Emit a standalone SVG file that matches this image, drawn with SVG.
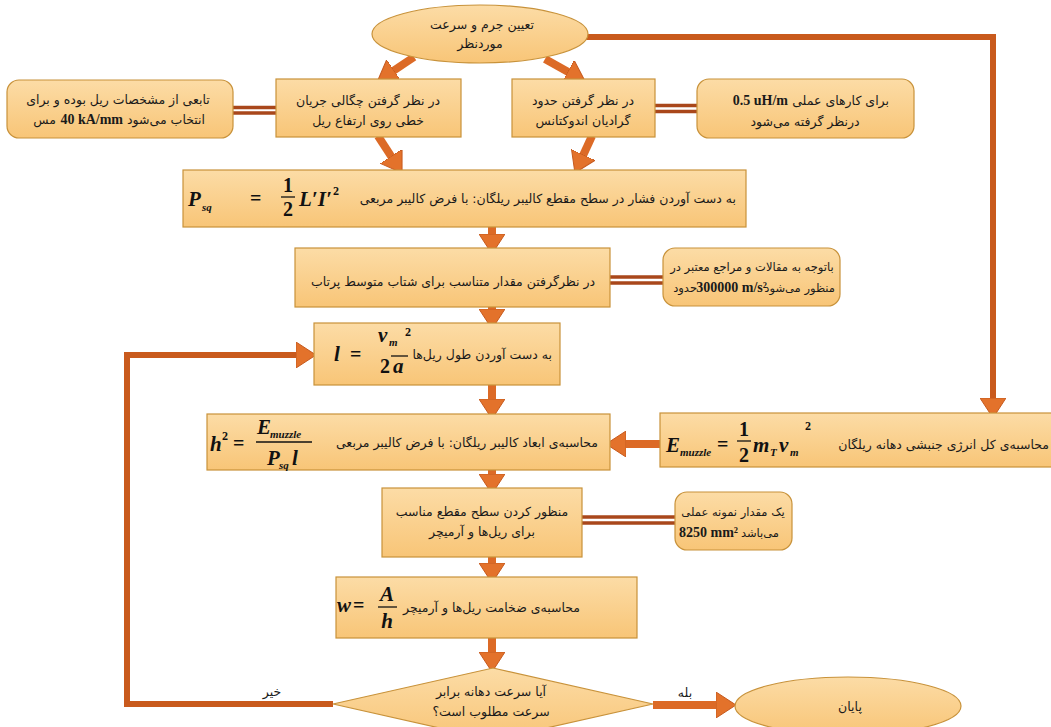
<svg xmlns="http://www.w3.org/2000/svg" width="1051" height="727" viewBox="0 0 1051 727">
<style>
.box{fill:url(#g);stroke:#c8923a;stroke-width:1.2}
.fa{font-family:"DejaVu Sans",sans-serif;font-size:12.5px;fill:#1a1a1a}
.fs{font-family:"DejaVu Sans",sans-serif;font-size:11.5px;fill:#1a1a1a}
.lat{font-family:"Liberation Serif",serif;font-weight:bold;font-size:14px;fill:#1a1a1a}
.m{font-family:"Liberation Serif",serif;font-style:italic;font-weight:bold;font-size:21px;fill:#111}
.ms{font-family:"Liberation Serif",serif;font-style:italic;font-weight:bold;font-size:11px;fill:#111}
.mr{font-family:"Liberation Serif",serif;font-weight:bold;font-size:20px;fill:#111}
.sup{font-family:"Liberation Serif",serif;font-weight:bold;font-size:12px;fill:#111}
.fl{stroke:#111;stroke-width:1.3}
.shaft{fill:none;stroke:#dc6a26;stroke-width:8;marker-end:url(#ah)}
.loop{fill:none;stroke:#c95a1d;stroke-width:6;marker-end:url(#ah)}
.dbl{stroke:#a9471b;stroke-width:3.5}
</style>
<defs>
<linearGradient id="g" x1="0" y1="0" x2="0" y2="1">
<stop offset="0" stop-color="#fcdca6"/>
<stop offset="1" stop-color="#f8c577"/>
</linearGradient>
<marker id="ah" markerUnits="userSpaceOnUse" markerWidth="20" markerHeight="26" viewBox="0 0 20 26" refX="1" refY="13" orient="auto">
<path d="M0,0 L20,13 L0,26 z" fill="#e3722b" stroke="#c65a1e" stroke-width="1"/>
</marker>
</defs>
<rect width="1051" height="727" fill="#ffffff"/>

<g id="connectors">
<line class="shaft" x1="414" y1="57" x2="393.1" y2="71"/>
<line class="shaft" x1="545" y1="59" x2="568.7" y2="72.2"/>
<line class="shaft" x1="378" y1="136" x2="391.7" y2="157.1"/>
<line class="shaft" x1="592" y1="136" x2="582.9" y2="155.7"/>
<line class="shaft" x1="492" y1="227" x2="492" y2="235"/>
<line class="shaft" x1="492" y1="307" x2="492" y2="310"/>
<line class="shaft" x1="492" y1="385" x2="492" y2="400"/>
<line class="shaft" x1="492" y1="470" x2="492" y2="475"/>
<line class="shaft" x1="492" y1="557" x2="492" y2="564"/>
<line class="shaft" x1="492" y1="638" x2="492" y2="653"/>
<line class="shaft" x1="660" y1="444" x2="625" y2="444"/>
<line class="shaft" x1="653" y1="705" x2="717" y2="705"/>
<path class="loop" d="M585,37 H993 V399"/>
<path class="loop" d="M333,704 H127 V355 H297"/>
<line class="dbl" x1="233" y1="107.5" x2="276" y2="107.5"/>
<line class="dbl" x1="233" y1="113" x2="276" y2="113"/>
<line class="dbl" x1="655" y1="105.5" x2="697" y2="105.5"/>
<line class="dbl" x1="655" y1="111.5" x2="697" y2="111.5"/>
<line class="dbl" x1="610" y1="277" x2="663" y2="277"/>
<line class="dbl" x1="610" y1="283" x2="663" y2="283"/>
<line class="dbl" x1="582" y1="517" x2="675" y2="517"/>
<line class="dbl" x1="582" y1="523" x2="675" y2="523"/>
<text class="fa" x="272" y="696" text-anchor="middle">خیر</text>
<text class="fa" x="685" y="697" text-anchor="middle">بله</text>
</g>

<g id="start">
<ellipse class="box" cx="480" cy="34" rx="108" ry="29"/>
<text class="fa" x="482" y="29" text-anchor="middle">تعیین جرم و سرعت</text>
<text class="fa" x="480" y="48" text-anchor="middle">موردنظر</text>
</g>

<g id="current-note">
<rect class="box" x="7" y="80" width="226" height="58" rx="12"/>
<text class="fa" x="118" y="104" text-anchor="middle">تابعی از مشخصات ریل بوده و برای</text>
<text class="fa" x="205" y="124" text-anchor="end">انتخاب می&#x200C;شود</text>
<text class="lat" x="123" y="124" text-anchor="end" font-size="13">40 kA/mm</text>
<text class="fa" x="56" y="124" text-anchor="end">مس</text>
</g>

<g id="current-density">
<rect class="box" x="276" y="79" width="185" height="58"/>
<text class="fa" x="368" y="105" text-anchor="middle">در نظر گرفتن چگالی جریان</text>
<text class="fa" x="368" y="125" text-anchor="middle">خطی روی ارتفاع ریل</text>
</g>

<g id="inductance">
<rect class="box" x="512" y="79" width="143" height="58"/>
<text class="fa" x="583" y="105" text-anchor="middle">در نظر گرفتن حدود</text>
<text class="fa" x="583" y="125" text-anchor="middle">گرادیان اندوکتانس</text>
</g>

<g id="inductance-note">
<rect class="box" x="697" y="79" width="217" height="59" rx="12"/>
<text class="fa" x="889" y="105" text-anchor="end">برای کارهای عملی</text>
<text class="lat" x="788" y="105" text-anchor="end" font-size="15">0.5 uH/m</text>
<text class="fa" x="805" y="126" text-anchor="middle">درنظر گرفته می&#x200C;شود</text>
</g>

<g id="pressure">
<rect class="box" x="183" y="170" width="563" height="57"/>
<text class="fa" x="736" y="203" text-anchor="end">به دست آوردن فشار در سطح مقطع کالیبر ریلگان: با فرض کالیبر مربعی</text>
<text class="m" x="188" y="206">P</text>
<text class="ms" x="202" y="211">sq</text>
<text class="mr" x="250" y="205">=</text>
<text class="mr" x="288" y="192" text-anchor="middle" font-size="18">1</text>
<line class="fl" x1="281" y1="197" x2="295" y2="197"/>
<text class="mr" x="288" y="216" text-anchor="middle" font-size="18">2</text>
<text class="m" x="299" y="206" font-size="20">L′I′</text>
<text class="sup" x="333" y="195">2</text>
</g>

<g id="acceleration">
<rect class="box" x="295" y="248" width="315" height="59"/>
<text class="fa" x="453" y="286" text-anchor="middle">در نظرگرفتن مقدار متناسب برای شتاب متوسط پرتاب</text>
</g>

<g id="acceleration-note">
<rect class="box" x="663" y="248" width="177" height="58" rx="12"/>
<text class="fs" x="752" y="271" text-anchor="middle">باتوجه به مقالات و مراجع معتبر در</text>
<text class="fs" x="835" y="292" text-anchor="end">منظور می&#x200C;شود</text>
<text class="lat" x="767" y="292" text-anchor="end" font-size="11.5">300000 m/s²</text>
<text class="fs" x="697" y="292" text-anchor="end">حدود</text>
</g>

<g id="rail-length">
<rect class="box" x="314" y="323" width="246" height="62"/>
<text class="fa" x="552" y="359" text-anchor="end">به دست آوردن طول ریل&#x200C;ها</text>
<text class="m" x="334" y="361">l</text>
<text class="mr" x="350" y="361">=</text>
<text class="m" x="378" y="342">v</text>
<text class="ms" x="389" y="346">m</text>
<text class="sup" x="405" y="336">2</text>
<text class="mr" x="380" y="373">2</text>
<text class="m" x="393" y="373">a</text>
<line class="fl" x1="391" y1="356" x2="408" y2="356"/>
</g>

<g id="caliber">
<rect class="box" x="207" y="414" width="403" height="56"/>
<text class="fa" x="598" y="447" text-anchor="end">محاسبه&#x200C;ی ابعاد کالیبر ریلگان: با فرض کالیبر مربعی</text>
<text class="m" x="210" y="451">h</text>
<text class="sup" x="222" y="440">2</text>
<text class="mr" x="233" y="450">=</text>
<text class="m" x="257" y="434" font-size="19">E</text>
<text class="ms" x="270" y="438" font-size="10">muzzle</text>
<line class="fl" x1="256" y1="442" x2="312" y2="442"/>
<text class="m" x="267" y="465" font-size="19">P</text>
<text class="ms" x="279" y="469" font-size="10">sq</text>
<text class="m" x="292" y="465" font-size="19">l</text>
</g>

<g id="energy">
<rect class="box" x="660" y="413" width="400" height="54"/>
<text class="fa" x="1049" y="449" text-anchor="end">محاسبه&#x200C;ی کل انرژی جنبشی دهانه ریلگان</text>
<text class="m" x="666" y="452">E</text>
<text class="ms" x="680" y="456" font-size="10">muzzle</text>
<text class="mr" x="717" y="451">=</text>
<text class="mr" x="744" y="436" text-anchor="middle" font-size="18">1</text>
<line class="fl" x1="737" y1="441" x2="751" y2="441"/>
<text class="mr" x="744" y="462" text-anchor="middle" font-size="18">2</text>
<text class="m" x="753" y="452" font-size="22">m</text>
<text class="ms" x="770" y="456" font-size="10">T</text>
<text class="m" x="779" y="452" font-size="22">v</text>
<text class="ms" x="790" y="456" font-size="10">m</text>
<text class="sup" x="805" y="430">2</text>
</g>

<g id="area">
<rect class="box" x="382" y="488" width="200" height="69"/>
<text class="fa" x="482" y="516" text-anchor="middle">منظور کردن سطح مقطع مناسب</text>
<text class="fa" x="482" y="536" text-anchor="middle">برای ریل&#x200C;ها و آرمیچر</text>
</g>

<g id="area-note">
<rect class="box" x="675" y="492" width="117" height="58" rx="12"/>
<text class="fs" x="733" y="516" text-anchor="middle">یک مقدار نمونه عملی</text>
<text class="fs" x="779" y="537" text-anchor="end">می&#x200C;باشد</text>
<text class="lat" x="738" y="537" text-anchor="end" font-size="12">8250 mm²</text>
</g>

<g id="thickness">
<rect class="box" x="336" y="577" width="301" height="61"/>
<text class="fa" x="403" y="612" text-anchor="start">محاسبه&#x200C;ی ضخامت ریل&#x200C;ها و آرمیچر</text>
<text class="m" x="337" y="612" font-size="20">w</text>
<text class="mr" x="353" y="612">=</text>
<text class="m" x="387" y="601" text-anchor="middle" font-size="18">A</text>
<line class="fl" x1="378" y1="607" x2="397" y2="607"/>
<text class="m" x="387" y="628" text-anchor="middle" font-size="18">h</text>
</g>

<g id="decision">
<polygon class="box" points="493,668 653,704 493,740 333,704"/>
<text class="fa" x="491" y="696" text-anchor="middle">آیا سرعت دهانه برابر</text>
<text class="fa" x="491" y="716" text-anchor="middle">سرعت مطلوب است؟</text>
</g>

<g id="end">
<ellipse class="box" cx="848" cy="706" rx="113" ry="29"/>
<text class="fa" x="850" y="711" text-anchor="middle">پایان</text>
</g>
</svg>
